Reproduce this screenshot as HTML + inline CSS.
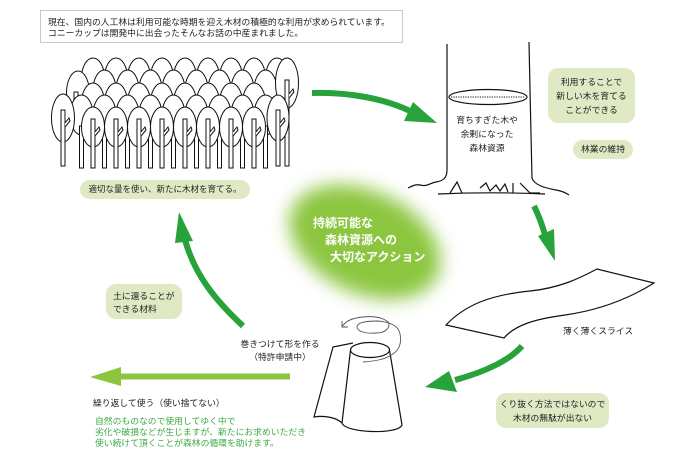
<!DOCTYPE html>
<html><head><meta charset="utf-8">
<style>
html,body{margin:0;padding:0;background:#fff;}
body{width:700px;height:461px;position:relative;overflow:hidden;font-family:"Liberation Sans","Noto Sans CJK JP",sans-serif;color:#222;}
.t{position:absolute;white-space:nowrap;font-size:8.8px;line-height:11px;}
.box{position:absolute;background:#dfe9c3;border-radius:10px;}
.c{text-align:center;}
.w{position:absolute;white-space:nowrap;font-size:12px;line-height:16px;font-weight:bold;color:#fff;}
svg{position:absolute;left:0;top:0;}
</style></head><body>
<svg width="700" height="461" viewBox="0 0 700 461" xmlns="http://www.w3.org/2000/svg">
<defs>
<filter id="bl" x="-50%" y="-50%" width="200%" height="200%"><feGaussianBlur stdDeviation="9"/></filter>
<g id="t4" fill="#fff" stroke="#111" stroke-width="1"><rect x="-2" y="119" width="4" height="49"/><polyline points="2,136 7,130 6,127 2,132"/></g>
<g id="t3" fill="#fff" stroke="#111" stroke-width="1"><rect x="-2" y="126" width="4" height="42"/></g>
<g id="t5" fill="#fff" stroke="#111" stroke-width="1"><rect x="-2" y="110" width="4" height="56"/><polyline points="2,127 7,121 6,118 2,123"/></g>
</defs>

<!-- blob -->
<ellipse cx="365" cy="242" rx="80" ry="51" transform="rotate(25 365 242)" fill="#8cc63f" filter="url(#bl)"/>

<!-- forest -->
<g fill="#fff" stroke="#111" stroke-width="1">
<ellipse cx="93" cy="78" rx="11.5" ry="20"/><ellipse cx="116" cy="78" rx="11.5" ry="20"/><ellipse cx="139" cy="78" rx="11.5" ry="20"/><ellipse cx="162" cy="78" rx="11.5" ry="20"/><ellipse cx="185" cy="78" rx="11.5" ry="20"/><ellipse cx="208" cy="78" rx="11.5" ry="20"/><ellipse cx="231" cy="78" rx="11.5" ry="20"/><ellipse cx="254" cy="78" rx="11.5" ry="20"/><ellipse cx="277" cy="78" rx="11.5" ry="20"/>
<ellipse cx="78" cy="93" rx="11.5" ry="22"/><ellipse cx="104.5" cy="90" rx="11.5" ry="20"/><ellipse cx="127.5" cy="90" rx="11.5" ry="20"/><ellipse cx="150.5" cy="90" rx="11.5" ry="20"/><ellipse cx="173.5" cy="90" rx="11.5" ry="20"/><ellipse cx="196.5" cy="90" rx="11.5" ry="20"/><ellipse cx="219.5" cy="90" rx="11.5" ry="20"/><ellipse cx="242.5" cy="90" rx="11.5" ry="20"/><ellipse cx="265.5" cy="90" rx="11.5" ry="20"/>
<rect x="74" y="92" width="4" height="20"/>
<ellipse cx="93" cy="103" rx="11.5" ry="20"/><ellipse cx="116" cy="103" rx="11.5" ry="20"/><ellipse cx="139" cy="103" rx="11.5" ry="20"/><ellipse cx="162" cy="103" rx="11.5" ry="20"/><ellipse cx="185" cy="103" rx="11.5" ry="20"/><ellipse cx="208" cy="103" rx="11.5" ry="20"/><ellipse cx="231" cy="103" rx="11.5" ry="20"/><ellipse cx="254" cy="103" rx="11.5" ry="20"/>
<ellipse cx="287" cy="83" rx="11.5" ry="25"/>
<rect x="285" y="80" width="4" height="86"/><polyline points="289,98 294,92 293,89 289,94"/>
<ellipse cx="81.5" cy="115" rx="11.5" ry="20"/><ellipse cx="104.5" cy="115" rx="11.5" ry="20"/><ellipse cx="127.5" cy="115" rx="11.5" ry="20"/><ellipse cx="150.5" cy="115" rx="11.5" ry="20"/><ellipse cx="173.5" cy="115" rx="11.5" ry="20"/><ellipse cx="196.5" cy="115" rx="11.5" ry="20"/><ellipse cx="219.5" cy="115" rx="11.5" ry="20"/><ellipse cx="242.5" cy="115" rx="11.5" ry="20"/><ellipse cx="265.5" cy="115" rx="11.5" ry="20"/>
</g>
<use href="#t3" x="81.5"/><use href="#t3" x="104.5"/><use href="#t3" x="127.5"/><use href="#t3" x="150.5"/><use href="#t3" x="173.5"/><use href="#t3" x="196.5"/><use href="#t3" x="219.5"/><use href="#t3" x="242.5"/><use href="#t3" x="265.5"/>
<g fill="#fff" stroke="#111" stroke-width="1">
<ellipse cx="63" cy="118" rx="11.5" ry="24"/>
<ellipse cx="278" cy="118" rx="11" ry="23"/>
</g>
<use href="#t5" x="63"/><use href="#t5" x="278"/>
<g fill="#fff" stroke="#111" stroke-width="1">
<ellipse cx="93" cy="127" rx="11.5" ry="20"/><ellipse cx="116" cy="127" rx="11.5" ry="20"/><ellipse cx="139" cy="127" rx="11.5" ry="20"/><ellipse cx="162" cy="127" rx="11.5" ry="20"/><ellipse cx="185" cy="127" rx="11.5" ry="20"/><ellipse cx="208" cy="127" rx="11.5" ry="20"/><ellipse cx="231" cy="127" rx="11.5" ry="20"/><ellipse cx="254" cy="127" rx="11.5" ry="20"/>
</g>
<use href="#t4" x="93"/><use href="#t4" x="116"/><use href="#t4" x="139"/><use href="#t4" x="162"/><use href="#t4" x="185"/><use href="#t4" x="208"/><use href="#t4" x="231"/><use href="#t4" x="254"/>

<!-- big tree trunk -->
<g fill="none" stroke="#111" stroke-width="1.2">
<path d="M447,44 L447,170 C447,178 443,181 436,182 C430,183 427,187 420,185 C416,184 412,186 408,188"/>
<path d="M529,42 C530,80 531,150 532,178 C534,185 545,188 556,190 C562,191 566,193 569,195"/>
<path d="M438,194 C460,193 500,192 545,194"/>
<path d="M450,193 L457,182 L462,193 M480,188 L486,183 L490,191 L496,185 L500,191 L505,184 L508,192 M513,183 L513,193 M520,183 L530,193 L540,193"/>
<ellipse cx="488" cy="97" rx="39" ry="7.5"/>
<path d="M451,97 L525,97" stroke-width="1" stroke-dasharray="1.2,1.2"/>
</g>

<!-- slice -->
<path d="M446,325 C465,305 490,295 530,291 C560,288 580,278 597,269 L654,283 C630,298 600,310 565,315 C535,319 515,325 504,338 Z" fill="#fff" stroke="#111" stroke-width="1.2"/>

<!-- cup -->
<g fill="none" stroke="#111" stroke-width="1.2">
<path d="M353,343 L333,347 L314,417 C325,415 337,418 342,423"/>
<path d="M350.5,350 L342,423 C345,433 398,435 402,425 L389.5,350"/>
<ellipse cx="370" cy="350" rx="19.5" ry="7.5" fill="#fff"/>
</g>
<path d="M342,327 C345,321 352,318 363,317 C372,316 383,317 388,322 C391,327 386,333 376,333 C365,334 357,331 357,327 C357,322 368,321 378,321 C390,322 399,326 400,334 C402,343 399,350 393,354 C386,359 377,361 363,362" fill="none" stroke="#555" stroke-width="0.9"/>
<path d="M342,321 L342,327 L348,327" fill="none" stroke="#555" stroke-width="0.9"/>

<!-- arrows -->
<g fill="none" stroke="#28a23a" stroke-width="6">
<path d="M312,93 C350,92 385,99 410,111"/>
<path d="M534,206 C538,214 542,224 545,235"/>
<path d="M522,346 C510,360 485,372 455,380"/>
<path d="M243,326 C215,300 195,275 185,240"/>
</g>
<g fill="#28a23a">
<polygon points="413,102 437,123 404,121"/>
<polygon points="538,236 554,229 555,261"/>
<polygon points="449,371 457,392 425,387"/>
<polygon points="175,243 193,241 179,212"/>
</g>
<rect x="118" y="373.5" width="172" height="6" fill="#8cc63f"/>
<polygon points="90,377 121,367 121,386" fill="#8cc63f"/>
</svg>

<!-- top box -->
<div style="position:absolute;left:40px;top:10px;width:361px;height:31px;border:1px solid #c9c9c9;"></div>
<div class="t" style="left:48px;top:17px;">現在、国内の人工林は利用可能な時期を迎え木材の積極的な利用が求められています。</div>
<div class="t" style="left:48px;top:28px;">コニーカップは開発中に出会ったそんなお話の中産まれました。</div>

<!-- box A -->
<div class="box" style="left:80px;top:180px;width:170px;height:19px;border-radius:9.5px;"></div>
<div class="t c" style="left:80px;top:180px;width:170px;line-height:19px;font-size:8.5px;">適切な量を使い、新たに木材を育てる。</div>

<!-- box B -->
<div class="box" style="left:548px;top:68px;width:87px;height:55px;"></div>
<div class="t c" style="left:548px;top:75px;width:87px;line-height:14px;">利用することで<br>新しい木を育てる<br>ことができる</div>

<!-- box C -->
<div class="box" style="left:573px;top:140px;width:60px;height:19px;border-radius:9.5px;"></div>
<div class="t c" style="left:573px;top:140px;width:60px;line-height:19px;">林業の維持</div>

<!-- tree text -->
<div class="t c" style="left:437px;top:113px;width:100px;line-height:14px;">育ちすぎた木や<br>余剰になった<br>森林資源</div>

<!-- blob text -->
<div class="w" style="left:313px;top:215px;">持続可能な</div>
<div class="w" style="left:325px;top:232px;">森林資源への</div>
<div class="w" style="left:330px;top:249px;">大切なアクション</div>

<!-- slice text -->
<div class="t" style="left:563px;top:325.5px;">薄く薄くスライス</div>

<!-- box D -->
<div class="box" style="left:496px;top:393px;width:113px;height:35px;"></div>
<div class="t c" style="left:496px;top:397px;width:113px;line-height:14px;">くり抜く方法ではないので<br>木材の無駄が出ない</div>

<!-- cup text -->
<div class="t c" style="left:230px;top:338px;width:100px;line-height:13px;">巻きつけて形を作る<br>（特許申請中）</div>

<!-- box E -->
<div class="box" style="left:106px;top:284px;width:76px;height:35px;"></div>
<div class="t" style="left:113px;top:289.5px;line-height:13px;">土に還ることが<br>できる材料</div>

<!-- bottom texts -->
<div class="t" style="left:93px;top:397.5px;">繰り返して使う（使い捨てない）</div>
<div class="t" style="left:95px;top:415.5px;color:#3daa45;">自然のものなので使用してゆく中で<br>劣化や破損などが生じますが、新たにお求めいただき<br>使い続けて頂くことが森林の循環を助けます。</div>
</body></html>
